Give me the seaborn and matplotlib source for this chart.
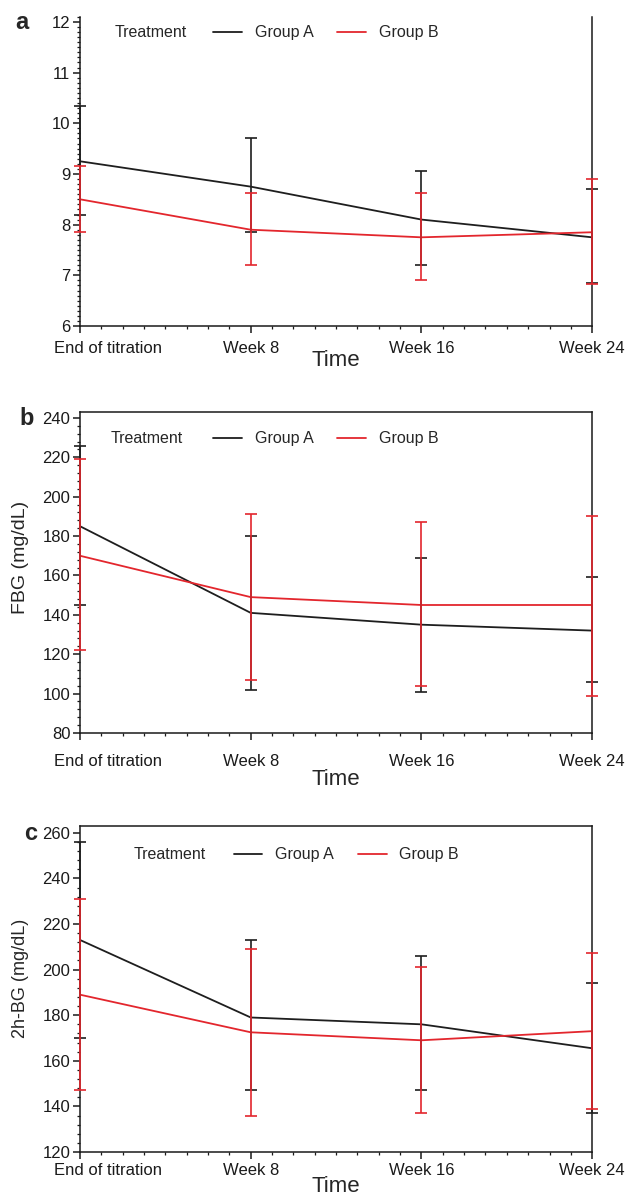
import matplotlib.pyplot as plt
import matplotlib.transforms as mtransforms
import pandas as pd
import seaborn as sns
from matplotlib.lines import Line2D
from matplotlib.ticker import AutoMinorLocator, MultipleLocator

# ── Data ─────────────────────────────────────────────────────────────
weeks = [0, 8, 16, 24]
week_labels = ["End of titration", "Week 8", "Week 16", "Week 24"]
groups = ["Group A", "Group B"]

# panel a – unlabelled outcome
a_mean_A = [9.25, 8.75, 8.1, 7.75]
a_low_A = [8.2, 7.85, 7.2, 6.85]
a_high_A = [10.35, 9.7, 9.05, 8.7]
a_mean_B = [8.5, 7.9, 7.75, 7.85]
a_low_B = [7.85, 7.2, 6.9, 6.82]
a_high_B = [9.15, 8.62, 8.62, 8.9]

# panel b – FBG (mg/dL)
b_mean_A = [185, 141, 135, 132]
b_low_A = [145, 102, 101, 106]
b_high_A = [226, 180, 169, 159]
b_mean_B = [170, 149, 145, 145]
b_low_B = [122, 107, 104, 99]
b_high_B = [219, 191, 187, 190]

# panel c – 2h-BG (mg/dL)
c_mean_A = [213, 179, 176, 165.5]
c_low_A = [170, 147, 147, 137]
c_high_A = [256, 213, 206, 194]
c_mean_B = [189, 172.5, 169, 173]
c_low_B = [147, 136, 137, 139]
c_high_B = [231, 209, 201, 207.5]

# ── Theme ────────────────────────────────────────────────────────────
sns.set_theme(style="ticks")
plt.rcParams["font.family"] = ["Liberation Sans", "DejaVu Sans"]
plt.rcParams.update({
    "axes.linewidth": 1.1,
    "axes.edgecolor": "#1a1a1a",
    "xtick.color": "#1a1a1a",
    "ytick.color": "#1a1a1a",
})

colors = {"Group A": "#1e1e1e", "Group B": "#e3262d"}


def long_frame(mean_a, mean_b):
    return pd.DataFrame({
        "week": weeks * 2,
        "value": mean_a + mean_b,
        "group": [groups[0]] * len(weeks) + [groups[1]] * len(weeks),
    })


def draw_panel(fig, rect, series, cfg):
    ax = fig.add_axes(rect)
    (mA, lA, hA), (mB, lB, hB) = series
    sns.lineplot(data=long_frame(mA, mB), x="week", y="value", hue="group",
                 palette=colors, ax=ax, legend=False, lw=1.3, errorbar=None)

    for (m, lo, hi), g in zip(series, groups):
        yerr = [[a - b for a, b in zip(m, lo)], [b - a for a, b in zip(m, hi)]]
        ax.errorbar(weeks, m, yerr=yerr, fmt="none", ecolor=colors[g],
                    elinewidth=1.2, capsize=4, capthick=1.2, clip_on=False, zorder=4)

    ax.set_xlim(0, 24)
    ax.set_ylim(*cfg["ylim"])
    ax.set_xticks(weeks)
    ax.set_xticklabels(week_labels)
    ax.xaxis.set_minor_locator(MultipleLocator(1))
    ax.set_yticks(cfg["yticks"])
    ax.yaxis.set_minor_locator(AutoMinorLocator(cfg["yminor"]))
    ax.tick_params(axis="both", which="major", direction="out", length=5,
                   width=1.1, labelsize=12)
    ax.tick_params(axis="both", which="minor", direction="out", length=2.5, width=0.9)
    ax.tick_params(axis="x", which="major", pad=cfg["xpad"])
    ax.tick_params(axis="y", which="major", pad=2)

    # first label sits to the right of its tick in the original
    shift = mtransforms.ScaledTranslation(0.28, 0, fig.dpi_scale_trans)
    first = ax.get_xticklabels()[0]
    first.set_transform(first.get_transform() + shift)

    ax.spines["top"].set_visible(cfg["top_spine"])
    ax.set_xlabel("Time", fontsize=16)
    ax.xaxis.set_label_coords(0.5, cfg["xlabel_y"])
    ax.set_ylabel(cfg["ylabel"], fontsize=cfg["ylabel_size"])
    ax.yaxis.set_label_coords(-0.10, cfg["ylabel_y"])

    tx, hx, ly = cfg["legend"]
    ax.text(tx, ly, "Treatment", transform=ax.transAxes, va="center", fontsize=11.5)
    handles = [Line2D([], [], color=colors[g], lw=1.3) for g in groups]
    ax.legend(handles, groups, ncol=2, loc="center left", bbox_to_anchor=(hx, ly),
              frameon=False, fontsize=11.5, handlelength=1.8, handletextpad=0.8,
              columnspacing=1.5, borderaxespad=0, borderpad=0)
    return ax


fig = plt.figure(figsize=(6.3, 12.03), dpi=100)

panels = [
    ("a", [0.127, 0.729, 0.813, 0.257],
     ((a_mean_A, a_low_A, a_high_A), (a_mean_B, a_low_B, a_high_B)),
     dict(ylim=(6, 12.1), yticks=[6, 7, 8, 9, 10, 11, 12], yminor=10, ylabel="",
          ylabel_size=12.5, ylabel_y=0.5, top_spine=False, xpad=6, xlabel_y=-0.078,
          legend=(0.068, 0.26, 0.948)),
     (0.035, 0.981)),
    ("b", [0.127, 0.3907, 0.813, 0.2668],
     ((b_mean_A, b_low_A, b_high_A), (b_mean_B, b_low_B, b_high_B)),
     dict(ylim=(80, 243), yticks=list(range(80, 241, 20)), yminor=5,
          ylabel="FBG (mg/dL)", ylabel_size=14, ylabel_y=0.548, top_spine=True,
          xpad=10, xlabel_y=-0.112, legend=(0.059, 0.26, 0.916)),
     (0.043, 0.652)),
    ("c", [0.127, 0.0424, 0.813, 0.271],
     ((c_mean_A, c_low_A, c_high_A), (c_mean_B, c_low_B, c_high_B)),
     dict(ylim=(120, 263), yticks=list(range(120, 261, 20)), yminor=5,
          ylabel="2h-BG (mg/dL)", ylabel_size=13, ylabel_y=0.534, top_spine=True,
          xpad=3, xlabel_y=-0.074, legend=(0.104, 0.30, 0.911)),
     (0.048, 0.307)),
]

for letter, rect, series, cfg, (lx, ly) in panels:
    draw_panel(fig, rect, series, cfg)
    fig.text(lx, ly, letter, fontsize=17, fontweight="bold", ha="center", va="center")

fig.savefig("out.png", dpi=100, facecolor="white")
plt.close(fig)
